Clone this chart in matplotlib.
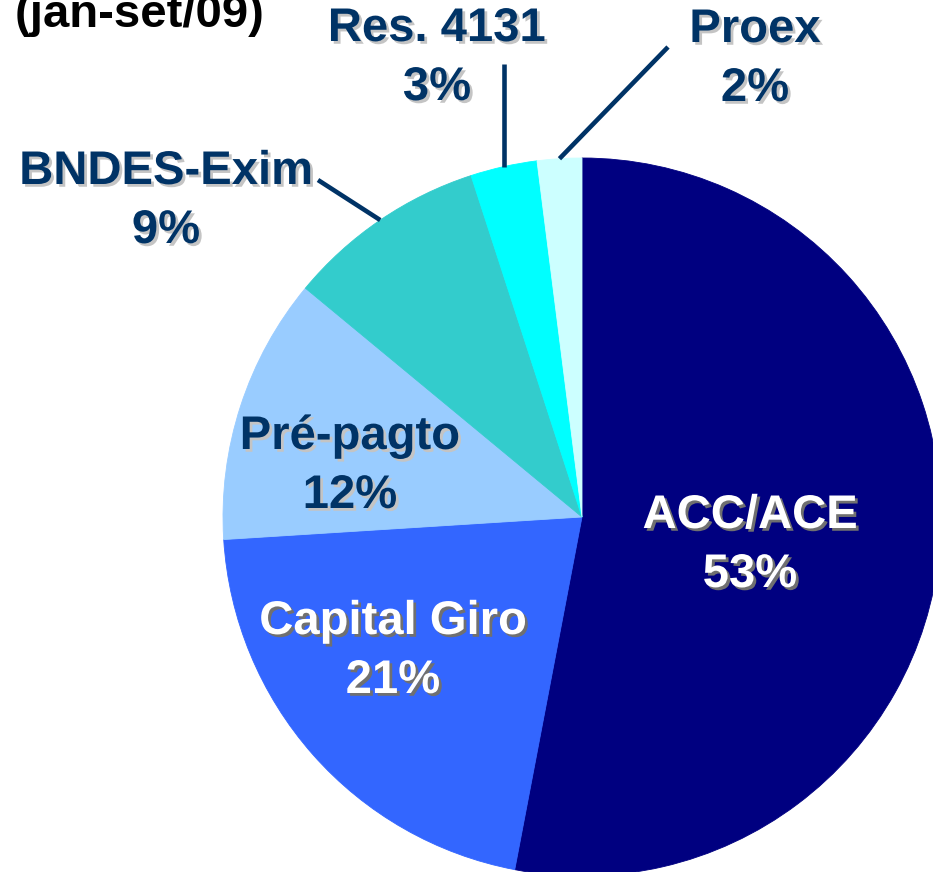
import numpy as np
import matplotlib.pyplot as plt
import matplotlib.patheffects as pe

categories = ["ACC/ACE", "Capital Giro", "Pré-pagto", "BNDES-Exim", "Res. 4131", "Proex"]
shares = [53, 21, 12, 9, 3, 2]
colors = ["#000080", "#3366FF", "#99CCFF", "#33CCCC", "#00FFFF", "#CCFFFF"]
title = "(jan-set/09)"

W, H = 933, 872
fig = plt.figure(figsize=(W / 100, H / 100), dpi=100)
ax = fig.add_axes([0, 0, 1, 1])

cx, cy, r = 582, H - 517, 359
wedges, _ = ax.pie(shares, colors=colors, startangle=90, counterclock=False,
                   center=(cx, cy), radius=r, frame=True,
                   wedgeprops=dict(linewidth=0.6))
for w, c in zip(wedges, colors):
    w.set_edgecolor(c)
ax.set_xlim(0, W)
ax.set_ylim(0, H)
ax.set_aspect("equal")
ax.axis("off")

dark = "#003366"
font = dict(family=["Liberation Sans", "DejaVu Sans"], fontweight="bold", fontsize=34)
shadow_light = [pe.withSimplePatchShadow(offset=(2, -2), shadow_rgbFace="#c4c4c4", alpha=1.0)]
shadow_dark = [pe.withSimplePatchShadow(offset=(2, -2), shadow_rgbFace="#707070", alpha=1.0)]

# label placement (pixel coords from top-left), inside = white text
label_pos = {
    "ACC/ACE": (750, 516, True),
    "Capital Giro": (393, 622, True),
    "Pré-pagto": (350, 437, False),
    "BNDES-Exim": (166, 172, False),
    "Res. 4131": (437, 29, False),
    "Proex": (755, 30, False),
}
leader_end = {
    "BNDES-Exim": (318, 180),
    "Res. 4131": (None, 64),   # vertical line
    "Proex": (668, 47),
}

for w, name, val in zip(wedges, categories, shares):
    x, y, inside = label_pos[name]
    col = "white" if inside else dark
    eff = shadow_dark if inside else shadow_light
    ax.text(x, H - y, name, color=col, ha="center", va="center", path_effects=eff, **font)
    ax.text(x, H - y - 59, f"{val}%", color=col, ha="center", va="center", path_effects=eff, **font)
    if name in leader_end:
        mid = np.deg2rad((w.theta1 + w.theta2) / 2)
        sx, sy = cx + r * np.cos(mid), cy + r * np.sin(mid)
        ex, ey = leader_end[name]
        if ex is None:
            ex = sx
        ax.plot([sx, ex], [sy, H - ey], color=dark, lw=3.3, solid_capstyle="butt")

ax.text(15, H - 27, title, color="black", ha="left", va="baseline", **font)

fig.savefig("out.png", dpi=100, facecolor="white")
